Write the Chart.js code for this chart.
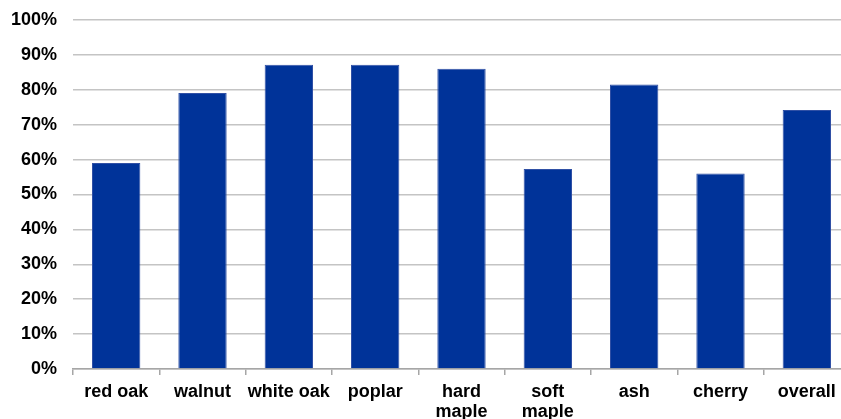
<!DOCTYPE html>
<html>
<head>
<meta charset="utf-8">
<script src="https://cdn.jsdelivr.net/npm/chart.js@4/dist/chart.umd.min.js"></script>
<style>
html,body{margin:0;padding:0;background:#fff;overflow:hidden;width:841px;height:419px;}
#wrap{position:absolute;left:0;top:0;width:850px;height:440px;}
</style>
</head>
<body>
<div id="wrap"><canvas id="c" width="850" height="440"></canvas></div>
<script>
const categories = [["red oak"], ["walnut"], ["white oak"], ["poplar"], ["hard", "maple"], ["soft", "maple"], ["ash"], ["cherry"], ["overall"]];
const values = [59.0, 79.1, 87.2, 87.2, 86.0, 57.3, 81.5, 56.0, 74.2];
const yMin = 0, yMax = 100, yStep = 10;

new Chart(document.getElementById('c'), {
  type: 'bar',
  data: {
    labels: categories,
    datasets: [{
      data: values,
      backgroundColor: '#003399',
      borderColor: '#3050a5',
      borderWidth: 1,
      categoryPercentage: 1.0,
      barPercentage: 0.56
    }]
  },
  options: {
    responsive: false,
    animation: false,
    devicePixelRatio: 1,
    layout: { padding: { top: 20, right: 0, bottom: 0, left: 0 } },
    plugins: { legend: { display: false }, tooltip: { enabled: false } },
    scales: {
      x: {
        offset: true,
        grid: { offset: true, drawOnChartArea: false, drawTicks: true, tickLength: 6, color: '#a6a6a6', lineWidth: 1.5 },
        border: { display: true, color: '#a6a6a6', width: 1.5 },
        ticks: { color: '#000', padding: 7, maxRotation: 0, autoSkip: false,
          font: { family: 'Liberation Sans, Arial, sans-serif', size: 18, weight: 'bold', lineHeight: 1.1 } },
        afterFit: s => { s.height = 71; s.paddingLeft = 0; s.paddingRight = 0; }
      },
      y: {
        min: yMin, max: yMax,
        grid: { drawTicks: false, color: '#c4c4c4', lineWidth: 1.5 },
        border: { display: false },
        ticks: { stepSize: yStep, padding: 16, color: '#000',
          callback: v => v + '%',
          font: { family: 'Liberation Sans, Arial, sans-serif', size: 18, weight: 'bold' } },
        afterFit: s => { s.width = 73; s.paddingTop = 0; s.paddingBottom = 0; }
      }
    }
  }
});
</script>
</body>
</html>
